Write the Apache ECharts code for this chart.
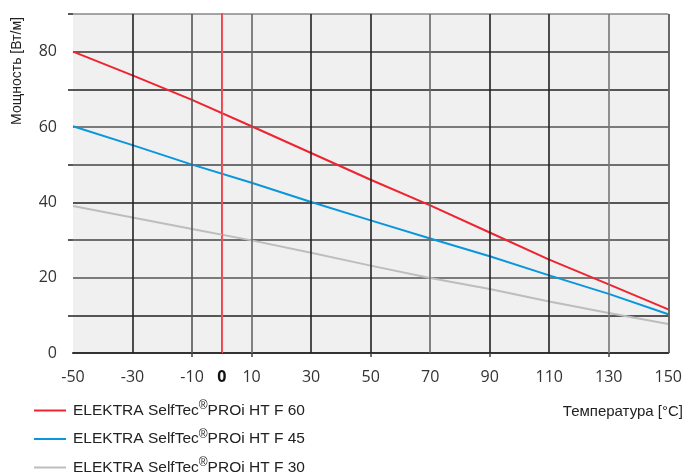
<!DOCTYPE html>
<html><head><meta charset="utf-8">
<script src="https://cdn.jsdelivr.net/npm/echarts@6/dist/echarts.min.js"></script>
<style>html,body{margin:0;padding:0;background:#fff}#c{width:685px;height:476px}</style>
</head><body><div id="c"></div>
<script>
var temps = [-50, -30, -10, 10, 30, 50, 70, 90, 110, 130, 150];
var f60 = [80, 73.7, 67.2, 60.2, 53.1, 46.0, 39.2, 32.0, 24.8, 18.2, 11.6];
var f45 = [60.2, 55.2, 50.0, 45.2, 40.1, 35.2, 30.4, 25.7, 20.6, 15.7, 10.3];
var f30 = [39.0, 36.0, 32.9, 29.9, 26.6, 23.2, 19.9, 17.0, 13.7, 10.6, 7.7];
var seriesNames = ['ELEKTRA SelfTec®PROi HT F 60', 'ELEKTRA SelfTec®PROi HT F 45', 'ELEKTRA SelfTec®PROi HT F 30'];
var yTitle = 'Мощность [Вт/м]';
var xTitle = 'Температура [°C]';
var gridX = [-30, -10, 10, 30, 50, 70, 90, 110, 130, 150];
var gridXCols = ['#222', '#555', '#666', '#222', '#222', '#666', '#222', '#222', '#777', '#444'];
var zeroX = 0;
var xTickVals = [-10, 10, 50, 90, 130];
var yTickVals = [10, 30, 50, 70, 90];

function pairs(ys){ return temps.map(function(t,i){ return [t, ys[i]]; }); }

var hCols = ['#555','#222','#555','#444','#222','#444','#555','#222','#333','#888'];

var vLines = gridX.map(function(v, i){ return {xAxis: v, lineStyle: {color: gridXCols[i], width: 1.6, type: 'solid'}}; });
vLines.push({xAxis: zeroX, lineStyle: {color: '#f25560', width: 1.1, type: 'solid'}});

var chart = echarts.init(document.getElementById('c'));
chart.setOption({
  animation: false,
  grid: {left: 73, right: 16, top: 14, bottom: 123, show: true, backgroundColor: '#f0f0f0', borderWidth: 0},
  xAxis: {
    type: 'value', min: -50, max: 150, interval: 10,
    axisLine: {show: true, onZero: false, lineStyle: {color: '#333', width: 2}},
    axisTick: {show: true, customValues: xTickVals, length: 4, lineStyle: {color: '#444', width: 1.5}},
    splitLine: {show: false},
    axisLabel: {
      margin: 16, color: '#333', fontFamily: 'Open Sans', fontSize: 16,
      formatter: function(v){ if (v === 0) return '{b|0}'; return (Math.abs(v) % 20 === 10) ? String(v) : ''; },
      rich: {b: {fontWeight: 'bold', fontFamily: 'Open Sans', fontSize: 16, color: '#111'}}
    }
  },
  yAxis: [{
    type: 'value', min: 0, max: 90, interval: 10,
    axisLine: {show: true, lineStyle: {color: '#777', width: 2}},
    axisTick: {show: false},
    splitLine: {show: true, lineStyle: {color: hCols, width: 1.6}},
    axisLabel: {
      margin: 16, color: '#333', fontFamily: 'Open Sans', fontSize: 16,
      formatter: function(v){ return (v % 20 === 0 && v <= 80) ? String(v) : ''; }
    }
  }, {
    type: 'value', min: 0, max: 90, interval: 10, position: 'left', offset: 0,
    axisLine: {show: false}, splitLine: {show: false}, axisLabel: {show: false},
    axisTick: {show: true, customValues: yTickVals, length: 5, lineStyle: {color: '#222', width: 1.5}}
  }],
  legend: {
    orient: 'vertical', left: 29, top: 395, height: 120, itemWidth: 32, itemHeight: 2, itemGap: 10,
    icon: 'rect',
    data: seriesNames,
    formatter: function(n){ return n.replace('®', '{s|®}'); },
    textStyle: {color: '#222', fontFamily: 'Liberation Sans', fontSize: 15.5, padding: [0,0,0,2],
      rich: {s: {fontFamily: 'Liberation Sans', fontSize: 12, color: '#222', padding: [0,0,9,0]}}}
  },
  graphic: [
    {type: 'text', x: 17, y: 71, rotation: Math.PI/2,
      style: {text: yTitle, fontFamily: 'Liberation Sans', fontSize: 14, fill: '#222', textAlign: 'center', textVerticalAlign: 'middle'}},
    {type: 'text', x: 683, y: 412,
      style: {text: xTitle, fontFamily: 'Liberation Sans', fontSize: 15, fill: '#222', textAlign: 'right', textVerticalAlign: 'middle'}}
  ],
  series: [
    {name: 'grid', type: 'line', data: [], z: 1, silent: true,
      markLine: {silent: true, symbol: ['none', 'none'], label: {show: false}, animation: false, data: vLines}},
    {name: seriesNames[0], type: 'line', z: 3, data: pairs(f60), showSymbol: false, lineStyle: {color: '#ee2430', width: 2}, itemStyle: {color: '#ee2430'}},
    {name: seriesNames[1], type: 'line', z: 3, data: pairs(f45), showSymbol: false, lineStyle: {color: '#0a96dc', width: 2}, itemStyle: {color: '#0a96dc'}},
    {name: seriesNames[2], type: 'line', z: 3, data: pairs(f30), showSymbol: false, lineStyle: {color: '#bdbdbd', width: 2}, itemStyle: {color: '#bdbdbd'}}
  ]
});
</script></body></html>
